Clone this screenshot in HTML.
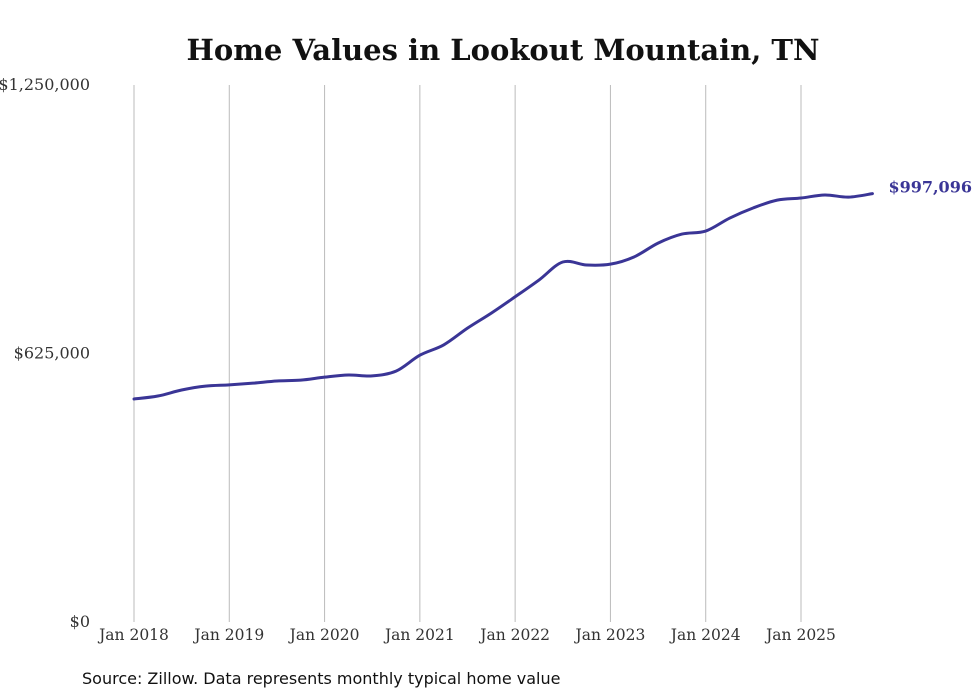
<!DOCTYPE html>
<html><head><meta charset="utf-8"><style>
body{margin:0;background:#fff;width:980px;height:699px;overflow:hidden}
svg{display:block}
</style></head><body>
<svg id="chart" width="980" height="699" xmlns="http://www.w3.org/2000/svg">
<text x="503" y="60" text-anchor="middle" font-family="'DejaVu Serif','Liberation Serif',serif" font-weight="bold" font-size="29" fill="#111">Home Values in Lookout Mountain, TN</text>
<g id="grid"></g>
<g id="yaxis"></g>
<g id="xaxis"></g>
<path id="line" fill="none" stroke="#3a3596" stroke-width="3" stroke-linejoin="round" stroke-linecap="round"/>
<text id="endlabel" font-family="'DejaVu Serif','Liberation Serif',serif" font-weight="bold" font-size="16" fill="#3a3596"></text>
<text x="82" y="684" font-family="'DejaVu Sans','Liberation Sans',sans-serif" font-size="16" fill="#111">Source: Zillow. Data represents monthly typical home value</text>
</svg>
<script>
const xTickLabels = ["Jan 2018","Jan 2019","Jan 2020","Jan 2021","Jan 2022","Jan 2023","Jan 2024","Jan 2025"];
const yTickValues = [0, 625000, 1250000];
const yTickLabels = ["$0","$625,000","$1,250,000"];
// quarterly samples, months since Jan 2018
const months = [0,3,6,9,12,15,18,21,24,27,30,33,36,39,42,45,48,51,54,57,60,63,66,69,72,75,78,81,84,87,90,93];
const values = [519000,526000,540000,549000,552000,556000,561000,563000,570000,575000,573000,584000,621000,645000,684000,719000,757000,796000,838000,831000,833000,850000,882000,903000,910000,940000,964000,982000,987000,994000,989000,997096];
const endLabel = "$997,096";

const ns="http://www.w3.org/2000/svg";
const x0=134, pxPerMonth=(801-134)/84;
const xs=m=>x0+m*pxPerMonth;
const ys=v=>622-v/1250000*537;
const serif="'DejaVu Serif','Liberation Serif',serif";
function mk(tag,attrs,parent,text){const e=document.createElementNS(ns,tag);for(const k in attrs)e.setAttribute(k,attrs[k]);if(text!==undefined)e.textContent=text;parent.appendChild(e);return e;}
const grid=document.getElementById('grid'),xa=document.getElementById('xaxis'),ya=document.getElementById('yaxis');
xTickLabels.forEach((l,i)=>{
  const x=xs(i*12);
  const g=mk('line',{x1:x,x2:x,y1:85,y2:622,stroke:'#bbb','stroke-width':1},grid);
  
  
  const t=mk('text',{x:x,y:640,'text-anchor':'middle','font-family':serif,'font-size':15.5,fill:'#333'},xa,l);
  
  
});
yTickValues.forEach((v,i)=>{
  const t=mk('text',{x:90,y:ys(v)+5,'text-anchor':'end','font-family':serif,'font-size':16,fill:'#333'},ya,yTickLabels[i]);
  
  
});
const pts=months.map((m,i)=>[xs(m),ys(values[i])]);
let d=`M${pts[0][0]},${pts[0][1]}`;
for(let i=0;i<pts.length-1;i++){
  const p0=pts[Math.max(0,i-1)],p1=pts[i],p2=pts[i+1],p3=pts[Math.min(pts.length-1,i+2)];
  const c1=[p1[0]+(p2[0]-p0[0])/6,p1[1]+(p2[1]-p0[1])/6];
  const c2=[p2[0]-(p3[0]-p1[0])/6,p2[1]-(p3[1]-p1[1])/6];
  d+=` C${c1[0]},${c1[1]} ${c2[0]},${c2[1]} ${p2[0]},${p2[1]}`;
}
document.getElementById('line').setAttribute('d',d);
const last=pts[pts.length-1];
const el=document.getElementById('endlabel');
el.setAttribute('x',last[0]+16);el.setAttribute('y',last[1]-1);el.textContent=endLabel;
</script>
</body></html>
